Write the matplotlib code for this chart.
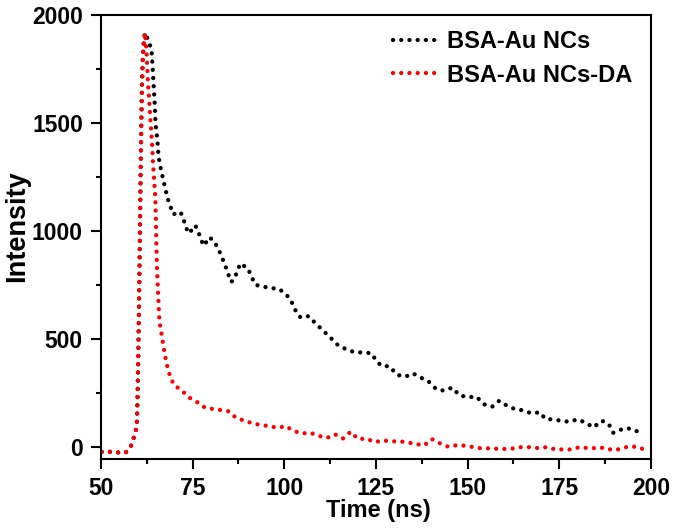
import matplotlib
matplotlib.use("Agg")
import matplotlib.pyplot as plt
from matplotlib.ticker import MultipleLocator

plt.rcParams['font.family'] = ['Liberation Sans', 'DejaVu Sans']
plt.rcParams['font.weight'] = 'bold'

# ---- data ----
rise_t = [50.2, 52.4, 54.6, 56.7, 58.1, 58.8, 59.5, 59.8, 60.0, 60.2, 60.4, 60.6,
          60.8, 61.0, 61.2, 61.4, 61.7, 62.0]
rise_i = [-22, -22, -25, -26, 1, 36, 75, 113, 250, 450, 700, 950,
          1250, 1500, 1684, 1792, 1884, 1918]

black_t = [62.6, 63.1, 63.8, 64.2, 64.6, 64.9, 65.4, 65.7, 66.1, 66.6, 67.1, 67.6,
           68.1, 68.9, 69.7, 71.7, 72.5, 73.2, 74.0, 75.7, 76.5, 77.2, 78.1, 79.5,
           80.8, 82.0, 83.0, 83.9, 84.7, 85.5, 86.3, 87.2, 88.0, 90.1, 91.1, 92.1,
           94.3, 96.5, 98.7, 101.0, 102.4, 103.3, 104.5, 106.6, 108.8, 110.9, 112.9,
           114.8, 117.0, 119.3, 121.5, 123.8, 125.1, 126.6, 128.7, 130.7, 132.9,
           135.1, 137.4, 139.5, 141.4, 143.5, 145.8, 147.8, 150.1, 152.4, 154.5,
           156.7, 158.6, 160.8, 163.0, 165.1, 167.4, 169.7, 171.2, 173.2, 175.4,
           177.7, 179.9, 182.1, 184.3, 186.6, 188.5, 189.7, 191.4, 193.6, 195.9, 198.2]
black_i = [1895, 1874, 1838, 1722, 1606, 1495, 1417, 1344, 1306, 1267, 1228, 1193,
           1154, 1116, 1077, 1088, 1054, 1015, 989, 1026, 1000, 962, 932, 971,
           955, 917, 878, 839, 801, 764, 776, 815, 850, 826, 787, 751,
           742, 736, 731, 697, 660, 622, 599, 606, 568, 534, 501,
           469, 452, 438, 438, 434, 398, 375, 374, 335, 325,
           341, 320, 301, 269, 261, 275, 239, 231, 233, 198,
           187, 214, 191, 175, 170, 156, 161, 130, 128, 122,
           117, 128, 114, 91, 122, 106, 66, 79, 88, 74, 73]

red_t = [62.2, 62.4, 62.6, 62.8, 63.1, 63.4, 63.7, 64.0, 64.2, 64.5, 64.8, 65.0,
         65.1, 65.3, 65.5, 65.7, 65.9, 66.2, 66.6, 66.9, 67.3, 67.7, 68.2, 68.9,
         69.9, 71.9, 74.0, 76.3, 78.4, 80.7, 82.9, 84.9, 86.9, 89.2, 91.3, 93.6,
         95.9, 98.2, 100.4, 102.5, 104.8, 107.1, 109.4, 111.6, 113.8, 116.0, 118.1,
         120.1, 122.4, 124.7, 127.0, 129.2, 131.4, 133.7, 135.8, 138.1, 140.2, 142.5,
         144.8, 147.1, 149.4, 151.5, 153.7, 156.0, 158.2, 160.5, 162.7, 165.0, 167.2,
         169.4, 171.6, 173.9, 176.1, 178.3, 180.6, 182.9, 185.0, 187.3, 189.5, 191.7,
         193.9, 196.2, 198.6]
red_i = [1876, 1838, 1769, 1691, 1614, 1537, 1463, 1386, 1310, 1236, 1159, 1043,
         932, 819, 742, 665, 593, 554, 515, 480, 441, 403, 364, 325,
         287, 264, 230, 207, 182, 176, 171, 165, 134, 122, 110, 102,
         97, 89, 97, 75, 63, 66, 52, 42, 59, 40, 71,
         37, 39, 23, 31, 26, 27, 21, 15, 7, 37, 17,
         1, 9, 6, 0, -6, -6, -8, -9, -6, 1, -1,
         -5, 0, -11, -11, -11, 0, -5, -5, -3, -14, -9,
         3, 1, -14]

labels = ["BSA-Au NCs", "BSA-Au NCs-DA"]
colors = ["black", "red"]

fig = plt.figure(figsize=(6.75, 5.31), dpi=100)
ax = fig.add_axes([0.1496, 0.1365, 0.8148, 0.8353])

dot_style = dict(linestyle=(0, (0.01, 1.9)), dash_capstyle='round', linewidth=3.1)
ax.plot(rise_t + black_t, rise_i + black_i, color=colors[0], label=labels[0], **dot_style)
ax.plot(rise_t + red_t, rise_i + red_i, color=colors[1], label=labels[1], **dot_style)

ax.set_xlim(50, 200)
ax.set_ylim(-53, 2000)
ax.xaxis.set_major_locator(MultipleLocator(25))
ax.xaxis.set_minor_locator(MultipleLocator(12.5))
ax.yaxis.set_major_locator(MultipleLocator(500))
ax.yaxis.set_minor_locator(MultipleLocator(250))
ax.tick_params(which='major', direction='out', length=7.5, width=1.5, labelsize=16.5, pad=5.5)
ax.tick_params(which='minor', direction='out', length=3.6, width=1.5)
for s in ax.spines.values():
    s.set_linewidth(1.5)

ax.set_xlabel("Time (ns)", fontsize=17, fontweight='bold', va='top')
ax.set_ylabel("Intensity", fontsize=19.5, fontweight='bold')
ax.xaxis.set_label_coords(0.504, -0.092)
ax.yaxis.set_label_coords(-0.128, 0.524)

leg = ax.legend(loc='upper left', bbox_to_anchor=(0.531, 0.966), frameon=False,
                borderaxespad=0, borderpad=0,
                fontsize=17, handlelength=1.85, handletextpad=0.45, labelspacing=0.45)

fig.savefig("out.png", dpi=100)
